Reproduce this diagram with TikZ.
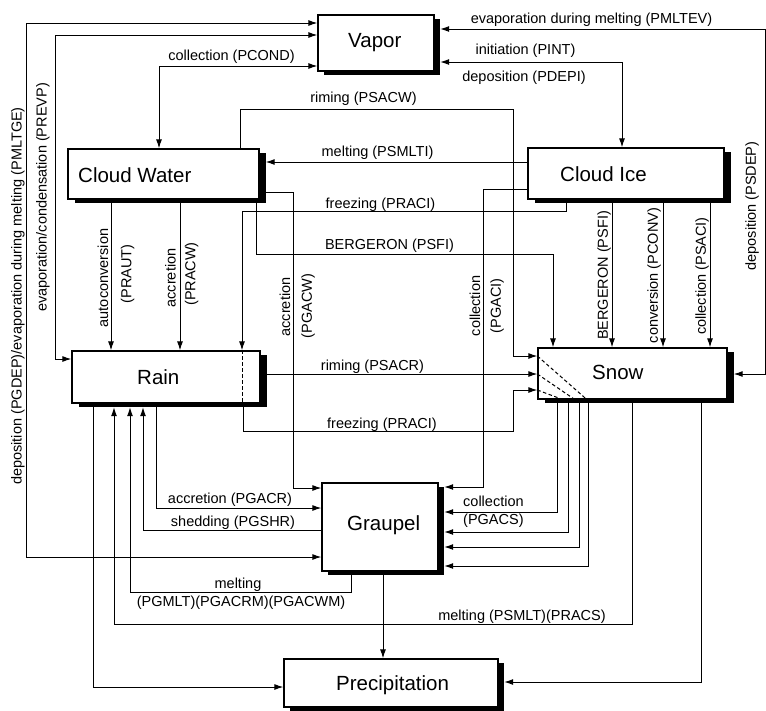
\documentclass[tikz,border=0pt]{standalone}
\usepackage{fontspec}
\setmainfont{Liberation Sans}
\usetikzlibrary{arrows.meta}
\begin{document}
\begin{tikzpicture}[x=1pt,y=-1pt,
  box/.style={draw, line width=1.3pt, fill=white, inner sep=0pt},
  shbox/.style={fill=black, draw=none, inner sep=0pt},
  btext/.style={anchor=base west, inner sep=0pt, font=\fontsize{20.5}{24}\selectfont},
  lbl/.style={anchor=base, inner sep=0pt, font=\fontsize{14.5}{17}\selectfont},
  lbll/.style={anchor=base west, inner sep=0pt, font=\fontsize{14.5}{17}\selectfont},
  vlbl/.style={rotate=90, anchor=center, inner sep=0pt, font=\fontsize{14.5}{17}\selectfont},
  con/.style={line width=1pt},
  arr/.style={con, -{Latex[length=9pt,width=6pt]}},
  arrr/.style={con, {Latex[length=9pt,width=6pt]}-{Latex[length=9pt,width=6pt]}},
  dsh/.style={con, dash pattern=on 3.5pt off 2.5pt}
]
\useasboundingbox (0,0) rectangle (766,710);

% shadows
\node[shbox, minimum width=116pt, minimum height=56pt] (vas) at (382,47) {};
\node[shbox, minimum width=191pt, minimum height=50pt] (cws) at (170,178) {};
\node[shbox, minimum width=196pt, minimum height=51pt] (cis) at (632.5,177.5) {};
\node[shbox, minimum width=188pt, minimum height=52pt] (rns) at (172.5,381) {};
\node[shbox, minimum width=189pt, minimum height=51pt] (sns) at (639,377.5) {};
\node[shbox, minimum width=116pt, minimum height=88pt] (grs) at (386,531) {};
\node[shbox, minimum width=214pt, minimum height=48pt] (prs) at (397,687) {};

% boxes
\node[box, minimum width=116pt, minimum height=56pt] (va) at (376,43) {};
\node[box, minimum width=191pt, minimum height=50pt] (cw) at (163.5,174) {};
\node[box, minimum width=196pt, minimum height=51pt] (ci) at (626,173.5) {};
\node[box, minimum width=188pt, minimum height=52pt] (rn) at (166,377) {};
\node[box, minimum width=189pt, minimum height=51pt] (sn) at (632.5,373.5) {};
\node[box, minimum width=116pt, minimum height=88pt] (gr) at (380,527) {};
\node[box, minimum width=214pt, minimum height=48pt] (pr) at (391,683) {};

\node[btext] (vat) at (348,47) {Vapor};
\node[btext] (cwt) at (78,182) {Cloud Water};
\node[btext] (cit) at (560,181) {Cloud Ice};
\node[btext] (rnt) at (137,384) {Rain};
\node[btext] (snt) at (592,379) {Snow};
\node[btext] (grt) at (347,530) {Graupel};
\node[btext] (prt) at (336,690) {Precipitation};

% connectors
\draw[arrr] (gr.west |- 0,557) -| (26,23) -- (va.west |- 0,23);
\draw[arrr] (rn.west |- 0,359) -| (55,35) -- (va.west |- 0,35);
\draw[arrr] (cw.north -| 159,0) |- (va.west |- 0,66);
\draw[arrr] (vas.east |- 0,29) -| (765,374) -- (sns.east |- 0,374);
\draw[arrr] (vas.east |- 0,62) -| (ci.north -| 622,0);
\draw[arr] (cw.north -| 240,0) |- (513,109) |- (sn.west |- 0,356);
\draw[arr] (ci.west |- 0,162) -- (cws.east |- 0,162);
\draw[arr] (cws.east |- 0,192) -| (293,488) -- (gr.west |- 0,488);
\draw[arr] (ci.south -| 566,0) |- (242,211) -- (rn.north -| 242,0);
\draw[dsh] (rn.north -| 242,0) -- (rn.south -| 242,0);
\draw[arr] (rn.south -| 243,0) |- (513,431) |- (sn.west |- 0,390);
\draw[arr] (cw.south -| 256,0) |- (553,254) -- (sn.north -| 553,0);
\draw[arr] (ci.west |- 0,189) -| (483,487) -- (grs.east |- 0,487);
\draw[arr] (cw.south -| 111,0) -- (rn.north -| 111,0);
\draw[arr] (cw.south -| 180,0) -- (rn.north -| 180,0);
\draw[arr] (ci.south -| 612,0) -- (sn.north -| 612,0);
\draw[arr] (ci.south -| 663,0) -- (sn.north -| 663,0);
\draw[arr] (ci.south -| 710,0) -- (sn.north -| 710,0);
\draw[arr] (rns.east |- 0,374) -- (sn.west |- 0,374);
\draw[dsh] (sn.west |- 0,356) -- (sn.south -| 587,0);
\draw[dsh] (sn.west |- 0,374) -- (sn.south -| 575,0);
\draw[dsh] (sn.west |- 0,390) -- (sn.south -| 563,0);
\draw[arr] (sn.south -| 557,0) |- (grs.east |- 0,512);
\draw[arr] (sn.south -| 568,0) |- (grs.east |- 0,532);
\draw[arr] (sn.south -| 579,0) |- (grs.east |- 0,547);
\draw[arr] (sn.south -| 588,0) |- (grs.east |- 0,566);
\draw[arr] (sn.south -| 632,0) |- (114,624) -- (rns.south -| 114,0);
\draw[arr] (sn.south -| 701,0) |- (prs.east |- 0,682);
\draw[arr] (rn.south -| 93,0) |- (pr.west |- 0,687);
\draw[arr] (gr.south -| 351,0) |- (130,592) -- (rns.south -| 130,0);
\draw[arr] (gr.west |- 0,530) -| (rns.south -| 143,0);
\draw[arr] (rn.south -| 156,0) |- (gr.west |- 0,508);
\draw[arr] (gr.south -| 383,0) -- (pr.north -| 383,0);

% labels
\node[vlbl] (l1) at (18,296) {deposition (PGDEP)/evaporation during melting (PMLTGE)};
\node[vlbl] (l2) at (43,197.5) {evaporation/condensation (PREVP)};
\node[vlbl] (l3) at (752,206) {deposition (PSDEP)};
\node[lbl] (l4) at (591.5,23) {evaporation during melting (PMLTEV)};
\node[lbl] (l5) at (525.5,54) {initiation (PINT)};
\node[lbl] (l6) at (524,81) {deposition (PDEPI)};
\node[lbl] (l7) at (231.5,60) {collection (PCOND)};
\node[lbl] (l8) at (363.5,102) {riming (PSACW)};
\node[lbl] (l9) at (377.5,156) {melting (PSMLTI)};
\node[lbl] (l10) at (380.5,208) {freezing (PRACI)};
\node[lbl] (l11) at (389.5,249) {BERGERON (PSFI)};
\node[vlbl] (l12) at (103,278) {autoconversion};
\node[vlbl] (l13) at (127.5,274) {(PRAUT)};
\node[vlbl] (l14) at (170.5,278) {accretion};
\node[vlbl] (l15) at (191.5,274) {(PRACW)};
\node[vlbl] (l16) at (285,307) {accretion};
\node[vlbl] (l17) at (308,306) {(PGACW)};
\node[vlbl] (l18) at (475,306) {collection};
\node[vlbl] (l19) at (497,306) {(PGACI)};
\node[vlbl] (l20) at (604,275.5) {BERGERON (PSFI)};
\node[vlbl] (l21) at (654,275.5) {conversion (PCONV)};
\node[vlbl] (l22) at (702,276) {collection (PSACI)};
\node[lbl] (l23) at (372.5,370) {riming (PSACR)};
\node[lbl] (l24) at (382,428) {freezing (PRACI)};
\node[lbl] (l25) at (230,503) {accretion (PGACR)};
\node[lbl] (l26) at (233,526) {shedding (PGSHR)};
\node[lbl] (l27) at (238,588) {melting};
\node[lbl] (l28) at (241,606) {(PGMLT)(PGACRM)(PGACWM)};
\node[lbll] (l29) at (463,506) {collection};
\node[lbll] (l30) at (463,524) {(PGACS)};
\node[lbl] (l31) at (522,620) {melting (PSMLT)(PRACS)};
\end{tikzpicture}
\end{document}
